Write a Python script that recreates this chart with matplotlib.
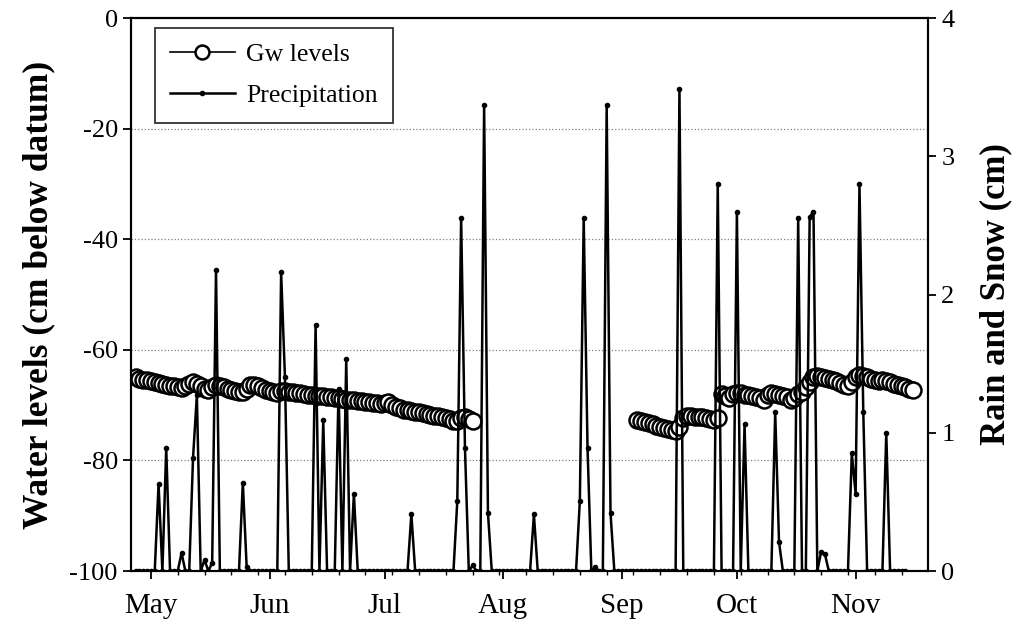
import matplotlib
matplotlib.use("Agg")
import matplotlib.pyplot as plt
import numpy as np

plt.rcParams['font.family'] = ['Liberation Serif', 'DejaVu Serif']
plt.rcParams['axes.unicode_minus'] = False

# days counted from May 1
month_days = [0, 31, 61, 92, 123, 153, 184]
month_labels = ['May', 'Jun', 'Jul', 'Aug', 'Sep', 'Oct', 'Nov']

# groundwater levels (cm below datum), daily, two runs with a gap between them
gw_start1 = -4
gw_levels1 = [-65.0, -65.2, -65.4, -65.5, -65.6, -65.8, -66.0, -66.1, -66.3, -66.5,
              -66.6, -66.8, -66.9, -66.6, -66.2, -65.9, -66.2, -66.6, -67.0, -67.3,
              -66.8, -66.3, -66.5, -66.8, -67.0, -67.2, -67.4, -67.6, -67.7, -67.0,
              -66.4, -66.3, -66.6, -66.9, -67.2, -67.4, -67.6, -67.8, -67.4, -67.4,
              -67.6, -67.7, -67.8, -67.9, -68.0, -68.1, -68.2, -68.3, -68.3, -68.4,
              -68.5, -68.6, -68.7, -68.8, -68.9, -69.0, -69.0, -69.1, -69.2, -69.3,
              -69.4, -69.5, -69.6, -69.7, -69.8, -69.6, -69.5, -69.9, -70.3, -70.6,
              -70.8, -70.9, -71.0, -71.2, -71.3, -71.5, -71.6, -71.8, -71.9, -72.0,
              -72.2, -72.4, -72.6, -72.8, -72.9, -72.4, -72.2, -72.5, -72.8]
gw_start2 = 127
gw_levels2 = [-72.7, -72.8, -73.0, -73.2, -73.5, -73.7, -73.9, -74.1, -74.3, -74.5,
              -74.6, -74.0, -72.3, -72.0, -72.0, -72.1, -72.2, -72.2, -72.3, -72.5,
              -72.7, -72.3, -68.0, -68.3, -68.7, -68.0, -67.8, -67.9, -68.1, -68.2,
              -68.4, -68.6, -68.8, -69.0, -68.2, -67.9, -68.0, -68.2, -68.4, -68.6,
              -69.0, -68.8, -68.0, -67.6, -66.8, -65.8, -65.0, -64.8, -64.9, -65.1,
              -65.3, -65.5, -65.7, -66.0, -66.3, -66.5, -65.8, -65.0, -64.6, -64.8,
              -65.0, -65.3, -65.5, -65.6, -65.4, -65.6, -65.9, -66.1, -66.4, -66.6,
              -66.8, -67.0, -67.2]

# precipitation (cm): record runs daily, rain days listed, other days zero
precip_first_day = -4
precip_last_day = 197
rain_days = [2, 4, 8, 11, 12, 14, 16, 17, 24, 25, 34, 35, 43, 45, 49, 51, 53, 68,
             80, 81, 82, 84, 87, 88, 100, 112, 113, 114, 116, 119, 120, 138, 148,
             153, 155, 163, 164, 169, 172, 173, 175, 176, 183, 184, 185, 186, 192]
rain_amounts = [0.63, 0.89, 0.13, 0.82, 1.27, 0.08, 0.06, 2.18, 0.64, 0.03, 2.16,
                1.40, 1.78, 1.09, 1.32, 1.53, 0.56, 0.41, 0.51, 2.55, 0.89, 0.04,
                3.37, 0.42, 0.41, 0.51, 2.55, 0.89, 0.03, 3.37, 0.42, 3.49, 2.80,
                2.60, 1.06, 1.15, 0.21, 2.55, 2.56, 2.60, 0.14, 0.12, 0.85, 0.56,
                2.80, 1.15, 1.00]

# build the series
gw_days = list(range(gw_start1, gw_start1 + len(gw_levels1))) + [np.nan] + \
    list(range(gw_start2, gw_start2 + len(gw_levels2)))
gw_vals = gw_levels1 + [np.nan] + gw_levels2

p_days = np.arange(precip_first_day, precip_last_day + 1)
p_vals = np.zeros(len(p_days))
for d, a in zip(rain_days, rain_amounts):
    p_vals[d - precip_first_day] = a

fig = plt.figure(figsize=(10.17, 6.32), dpi=100)
ax = fig.add_axes([0.1288, 0.0965, 0.7837, 0.875])

ax.plot(gw_days, gw_vals, color='black', linewidth=1.2, marker='o', markersize=11.5,
        markerfacecolor='white', markeredgecolor='black', markeredgewidth=1.8,
        label='Gw levels')
ax.set_ylim(-100, 0)
ax.set_yticks([-100, -80, -60, -40, -20, 0])
ax.set_xlim(-5.2, 202.9)
ax.set_xticks(month_days)
ax.set_xticklabels(month_labels)
ax.set_xticks(np.arange(0, 200, 7), minor=True)
ax.yaxis.grid(True, linestyle=':', color='gray', linewidth=0.9)
ax.set_axisbelow(True)
ax.set_ylabel('Water levels (cm below datum)', fontsize=25.5, fontweight='bold', labelpad=10)
ax.tick_params(axis='y', which='major', direction='out', length=6, width=1.3,
               labelsize=19)
ax.tick_params(axis='x', which='major', direction='out', length=6, width=1.3,
               labelsize=21, pad=10)
ax.tick_params(axis='x', which='minor', direction='out', length=3, width=1)

ax2 = ax.twinx()
ax2.plot(p_days, p_vals, color='black', linewidth=1.8, marker='o', markersize=3,
         label='Precipitation')
ax2.set_ylim(0, 4)
ax2.set_yticks([0, 1, 2, 3, 4])
ax2.set_ylabel('Rain and Snow (cm)', fontsize=25, fontweight='bold', labelpad=18)
ax2.tick_params(axis='y', direction='out', length=6, width=1.3, labelsize=19)

for a in (ax, ax2):
    for s in a.spines.values():
        s.set_linewidth(1.5)

h1, l1 = ax.get_legend_handles_labels()
h2, l2 = ax2.get_legend_handles_labels()
leg = ax2.legend(h1 + h2, l1 + l2, loc='upper left', bbox_to_anchor=(0.030, 0.982),
                 borderaxespad=0, fontsize=18.5, frameon=True, fancybox=False,
                 edgecolor='black', handlelength=2.5, handletextpad=0.45,
                 borderpad=0.6, labelspacing=0.7)
leg.get_frame().set_linewidth(1.3)
leg.legend_handles[0].set_markersize(10)

fig.savefig('out.png', dpi=100)
